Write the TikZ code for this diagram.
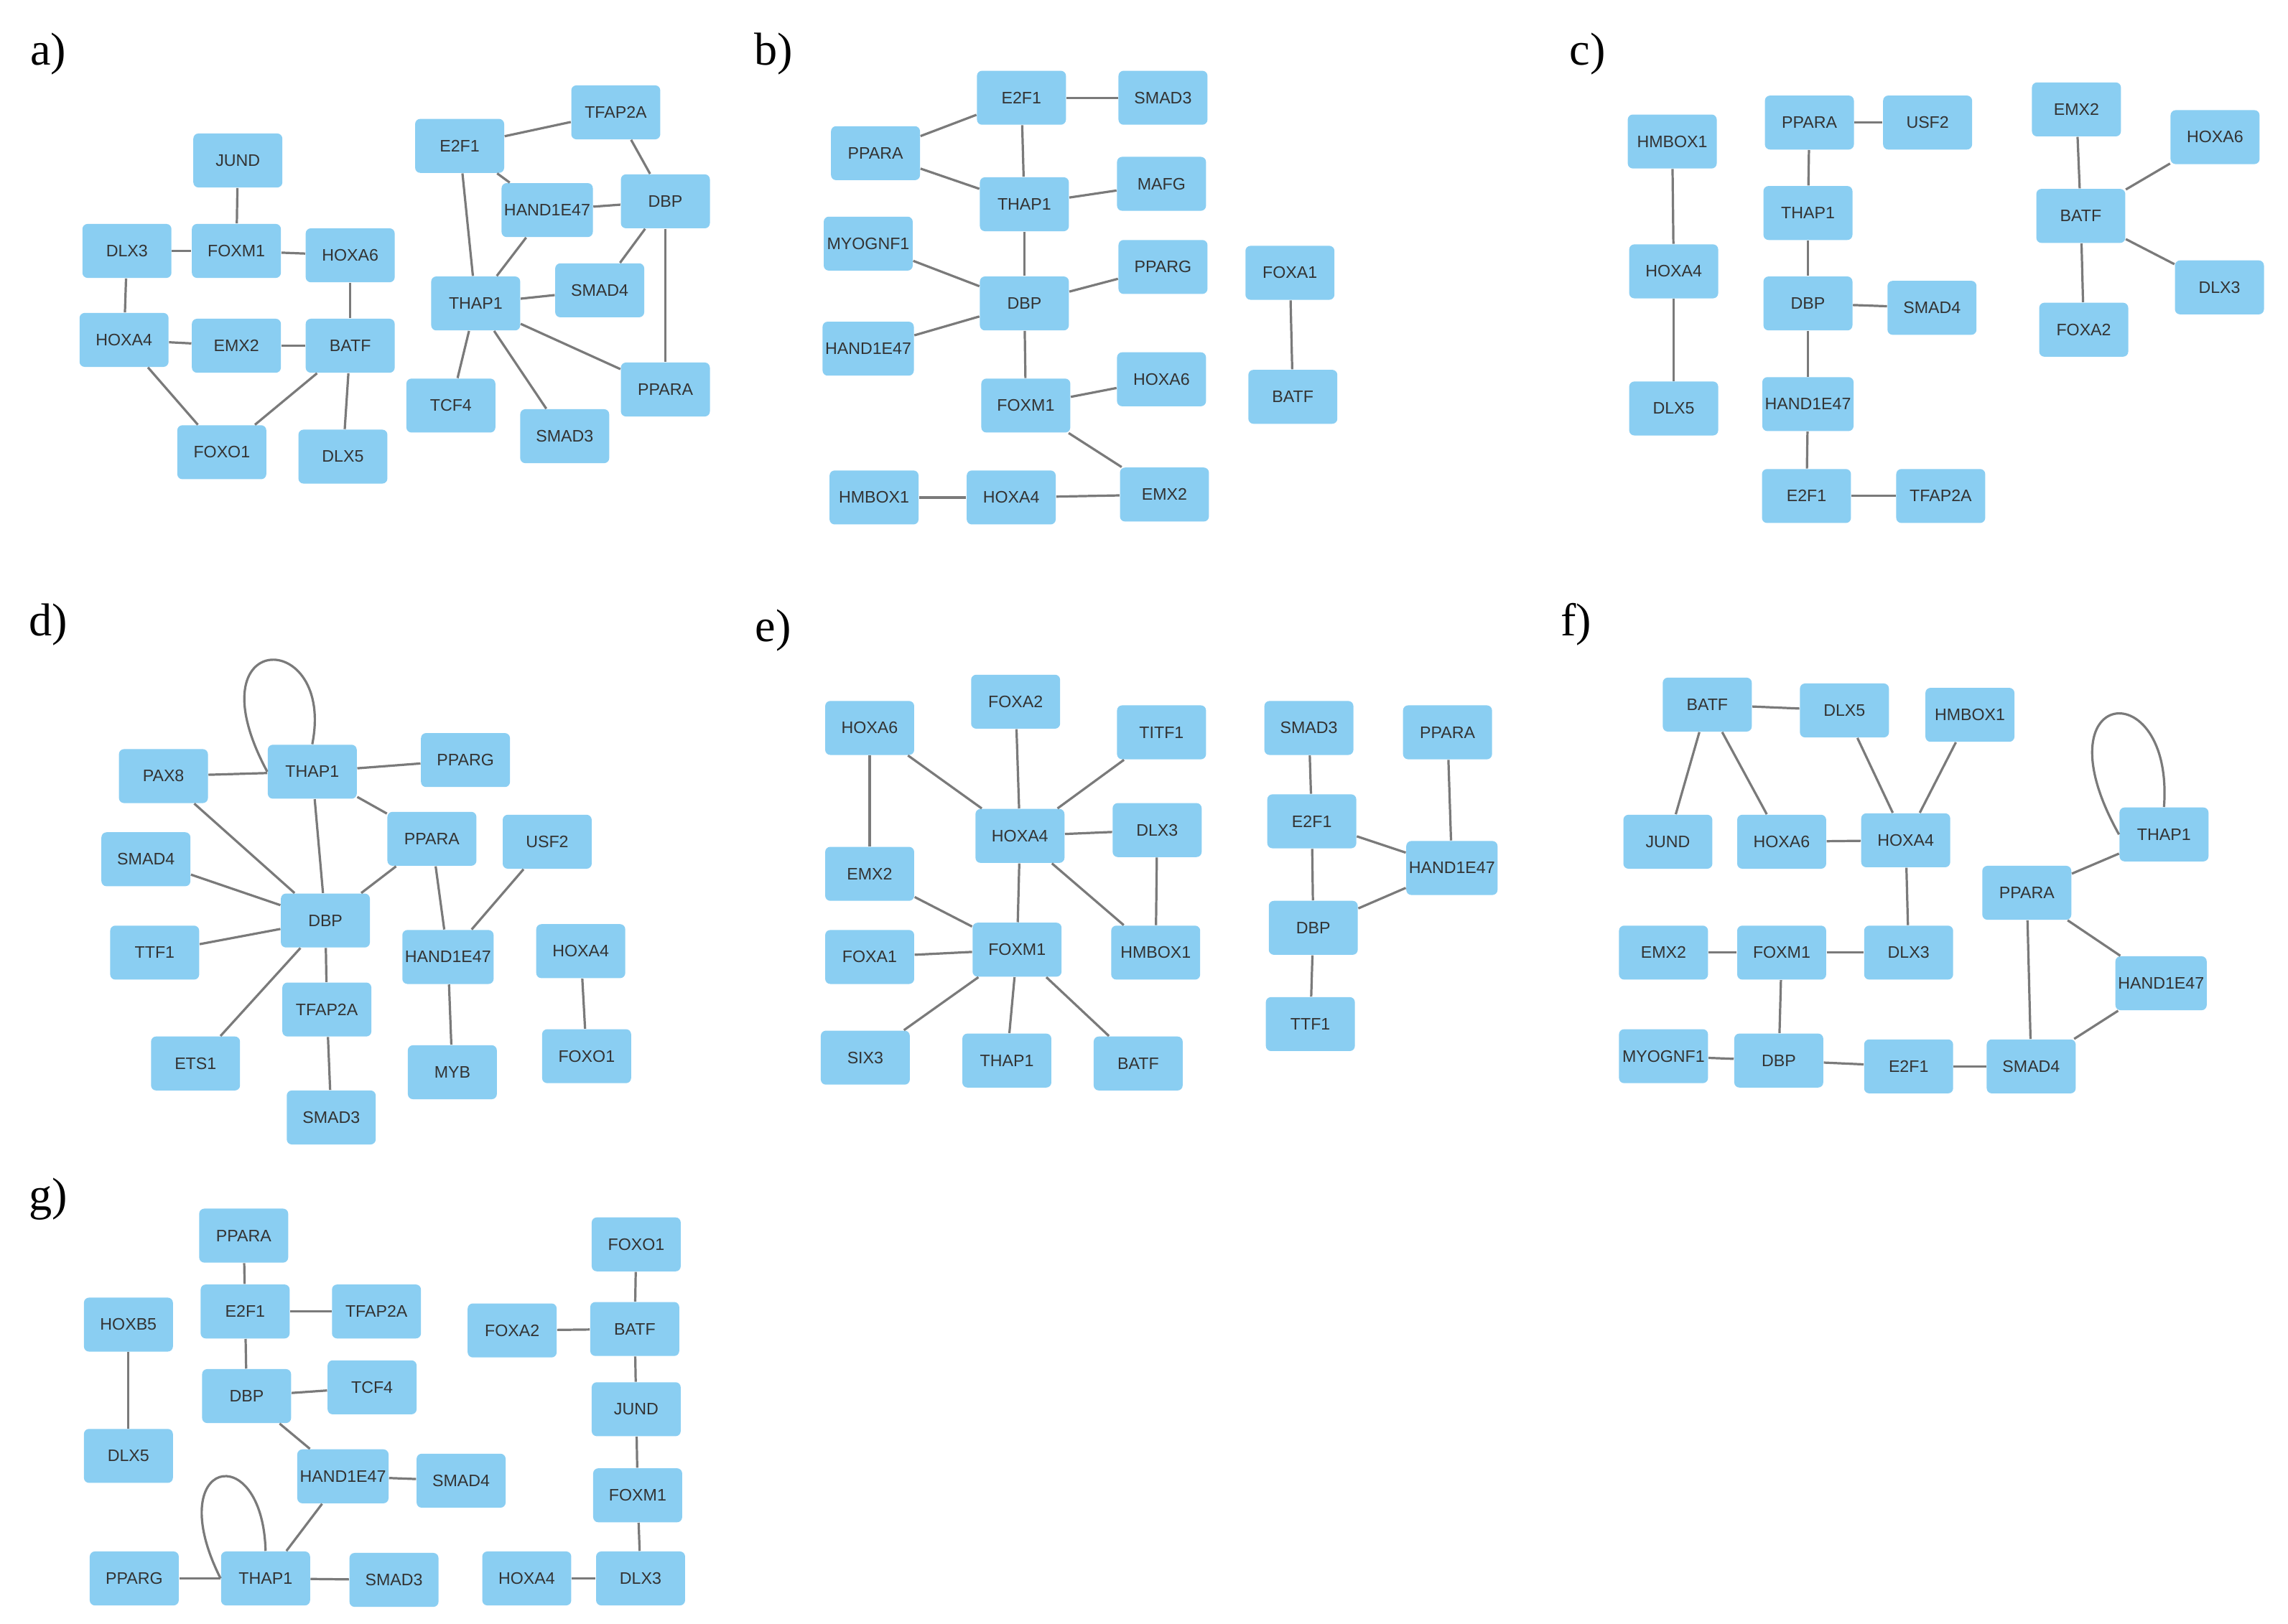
\documentclass[tikz,border=0pt]{standalone}
\usepackage{fontspec}
\setmainfont{Liberation Serif}
\newfontfamily\boxfont{Liberation Sans}
\definecolor{boxblue}{HTML}{8ACEF2}
\definecolor{edgegray}{HTML}{7A7A7A}
\begin{document}
\begin{tikzpicture}[x=0.02cm,y=-0.02cm,
  box/.style={fill=boxblue,rounded corners=2pt,minimum width=1.22cm,minimum height=0.74cm,inner sep=1pt,font=\boxfont\fontsize{6.5}{7}\selectfont,text=black!80},
  edge/.style={draw=edgegray,line width=0.9pt},
  lab/.style={font=\fontsize{18}{20}\selectfont}]
\useasboundingbox[fill=white] (0,0) rectangle (1568,1113);
\node[lab] (la) at (33,37) {a)};
\node[lab] (lb) at (530,37) {b)};
\node[lab] (lc) at (1088,37) {c)};
\node[lab] (ld) at (33,428) {d)};
\node[lab] (le) at (530,432) {e)};
\node[lab] (lf) at (1080,428) {f)};
\node[lab] (lg) at (33,822) {g)};
% panel a
\foreach \n/\x/\y in {JUND/163/110,DLX3/87/172,FOXM1/162/172,HOXA6/240/175,HOXA4/85/233,EMX2/162/237,BATF/240/237,FOXO1/152/310,DLX5/235/313,E2F1/315/100,TFAP2A/422/77,HAND1E47/375/144,DBP/456/138,THAP1/326/208,SMAD4/411/199,PPARA/456/267,TCF4/309/278,SMAD3/387/299}
  \node[box] (a\n) at (\x,\y) {\n};
\begin{scope}[on background layer/.try]
\end{scope}
\foreach \u/\v in {JUND/FOXM1,DLX3/FOXM1,FOXM1/HOXA6,DLX3/HOXA4,HOXA4/EMX2,EMX2/BATF,HOXA6/BATF,HOXA4/FOXO1,BATF/FOXO1,BATF/DLX5,E2F1/TFAP2A,E2F1/HAND1E47,TFAP2A/DBP,E2F1/THAP1,HAND1E47/DBP,HAND1E47/THAP1,DBP/SMAD4,DBP/PPARA,THAP1/SMAD4,THAP1/PPARA,THAP1/TCF4,THAP1/SMAD3}
  \draw[edge] (a\u) -- (a\v);
% panel b
\foreach \n/\x/\y in {E2F1/700/67,SMAD3/797/67,PPARA/600/105,THAP1/702/140,MAFG/796/126,MYOGNF1/595/167,DBP/702/208,PPARG/797/183,HAND1E47/595/239,FOXM1/703/278,HOXA6/796/260,HMBOX1/599/341,HOXA4/693/341,EMX2/798/339,FOXA1/884/187,BATF/886/272}
  \node[box] (b\n) at (\x,\y) {\n};
\foreach \u/\v in {E2F1/SMAD3,PPARA/E2F1,PPARA/THAP1,E2F1/THAP1,THAP1/MAFG,THAP1/DBP,MYOGNF1/DBP,DBP/PPARG,HAND1E47/DBP,DBP/FOXM1,FOXM1/HOXA6,FOXM1/EMX2,HMBOX1/HOXA4,HOXA4/EMX2,FOXA1/BATF}
  \draw[edge] (b\u) -- (b\v);
% panel c
\foreach \n/\x/\y in {HMBOX1/1146/97,PPARA/1240/84,USF2/1321/84,EMX2/1423/75,HOXA6/1518/94,THAP1/1239/146,BATF/1426/148,HOXA4/1147/186,DBP/1239/208,SMAD4/1324/211,DLX3/1521/197,FOXA2/1428/226,DLX5/1147/280,HAND1E47/1239/277,E2F1/1238/340,TFAP2A/1330/340}
  \node[box] (c\n) at (\x,\y) {\n};
\foreach \u/\v in {HMBOX1/HOXA4,HOXA4/DLX5,PPARA/USF2,PPARA/THAP1,THAP1/DBP,DBP/SMAD4,DBP/HAND1E47,HAND1E47/E2F1,E2F1/TFAP2A,EMX2/BATF,BATF/HOXA6,BATF/DLX3,BATF/FOXA2}
  \draw[edge] (c\u) -- (c\v);
% panel d
\foreach \n/\x/\y in {THAP1/214/529,PAX8/112/532,PPARG/319/521,PPARA/296/575,USF2/375/577,SMAD4/100/589,DBP/223/631,HAND1E47/307/656,HOXA4/398/652,TTF1/106/653,TFAP2A/224/692,ETS1/134/729,MYB/310/735,FOXO1/402/724,SMAD3/227/766}
  \node[box] (d\n) at (\x,\y) {\n};
\foreach \u/\v in {PAX8/THAP1,THAP1/PPARG,THAP1/PPARA,THAP1/DBP,PAX8/DBP,SMAD4/DBP,TTF1/DBP,ETS1/DBP,DBP/PPARA,DBP/TFAP2A,TFAP2A/SMAD3,PPARA/HAND1E47,USF2/HAND1E47,HAND1E47/MYB,HOXA4/FOXO1}
  \draw[edge] (d\u) -- (d\v);
\draw[edge] (dTHAP1.west) .. controls (130,430) and (230,430) .. (dTHAP1.north);
% panel e
\foreach \n/\x/\y in {HOXA6/596/499,FOXA2/696/481,TITF1/796/502,HOXA4/699/573,DLX3/793/569,EMX2/596/599,FOXM1/697/651,HMBOX1/792/653,FOXA1/596/656,SIX3/593/725,THAP1/690/727,BATF/780/729,SMAD3/897/499,PPARA/992/502,E2F1/899/563,HAND1E47/995/595,DBP/900/636,TTF1/898/702}
  \node[box] (e\n) at (\x,\y) {\n};
\foreach \u/\v in {HOXA6/EMX2,HOXA6/HOXA4,FOXA2/HOXA4,TITF1/HOXA4,HOXA4/DLX3,HOXA4/FOXM1,HOXA4/HMBOX1,DLX3/HMBOX1,EMX2/FOXM1,FOXA1/FOXM1,FOXM1/SIX3,FOXM1/THAP1,FOXM1/BATF,SMAD3/E2F1,PPARA/HAND1E47,E2F1/HAND1E47,E2F1/DBP,DBP/HAND1E47,DBP/TTF1}
  \draw[edge] (e\u) -- (e\v);
% panel f
\foreach \n/\x/\y in {BATF/1170/483,DLX5/1264/487,HMBOX1/1350/490,THAP1/1483/572,JUND/1143/577,HOXA6/1221/577,HOXA4/1306/576,PPARA/1389/612,EMX2/1140/653,FOXM1/1221/653,DLX3/1308/653,HAND1E47/1481/674,MYOGNF1/1140/724,DBP/1219/727,E2F1/1308/731,SMAD4/1392/731}
  \node[box] (f\n) at (\x,\y) {\n};
\foreach \u/\v in {BATF/DLX5,BATF/JUND,BATF/HOXA6,DLX5/HOXA4,HMBOX1/HOXA4,HOXA6/HOXA4,HOXA4/DLX3,EMX2/FOXM1,FOXM1/DLX3,FOXM1/DBP,MYOGNF1/DBP,DBP/E2F1,E2F1/SMAD4,THAP1/PPARA,PPARA/HAND1E47,PPARA/SMAD4,HAND1E47/SMAD4}
  \draw[edge] (f\u) -- (f\v);
\draw[edge] (fTHAP1.west) .. controls (1395,470) and (1490,460) .. (fTHAP1.north);
% panel g
\foreach \n/\x/\y in {PPARA/167/847,FOXO1/436/853,E2F1/168/899,TFAP2A/258/899,HOXB5/88/908,FOXA2/351/912,BATF/435/911,DBP/169/957,TCF4/255/951,JUND/436/966,DLX5/88/998,HAND1E47/235/1012,SMAD4/316/1015,FOXM1/437/1025,PPARG/92/1082,THAP1/182/1082,SMAD3/270/1083,HOXA4/361/1082,DLX3/439/1082}
  \node[box] (g\n) at (\x,\y) {\n};
\foreach \u/\v in {PPARA/E2F1,E2F1/TFAP2A,E2F1/DBP,DBP/TCF4,DBP/HAND1E47,HAND1E47/SMAD4,HAND1E47/THAP1,PPARG/THAP1,THAP1/SMAD3,HOXB5/DLX5,FOXO1/BATF,FOXA2/BATF,BATF/JUND,JUND/FOXM1,FOXM1/DLX3,HOXA4/DLX3}
  \draw[edge] (g\u) -- (g\v);
\draw[edge] (gTHAP1.west) .. controls (110,1000) and (180,985) .. (gTHAP1.north);
\end{tikzpicture}
\end{document}
